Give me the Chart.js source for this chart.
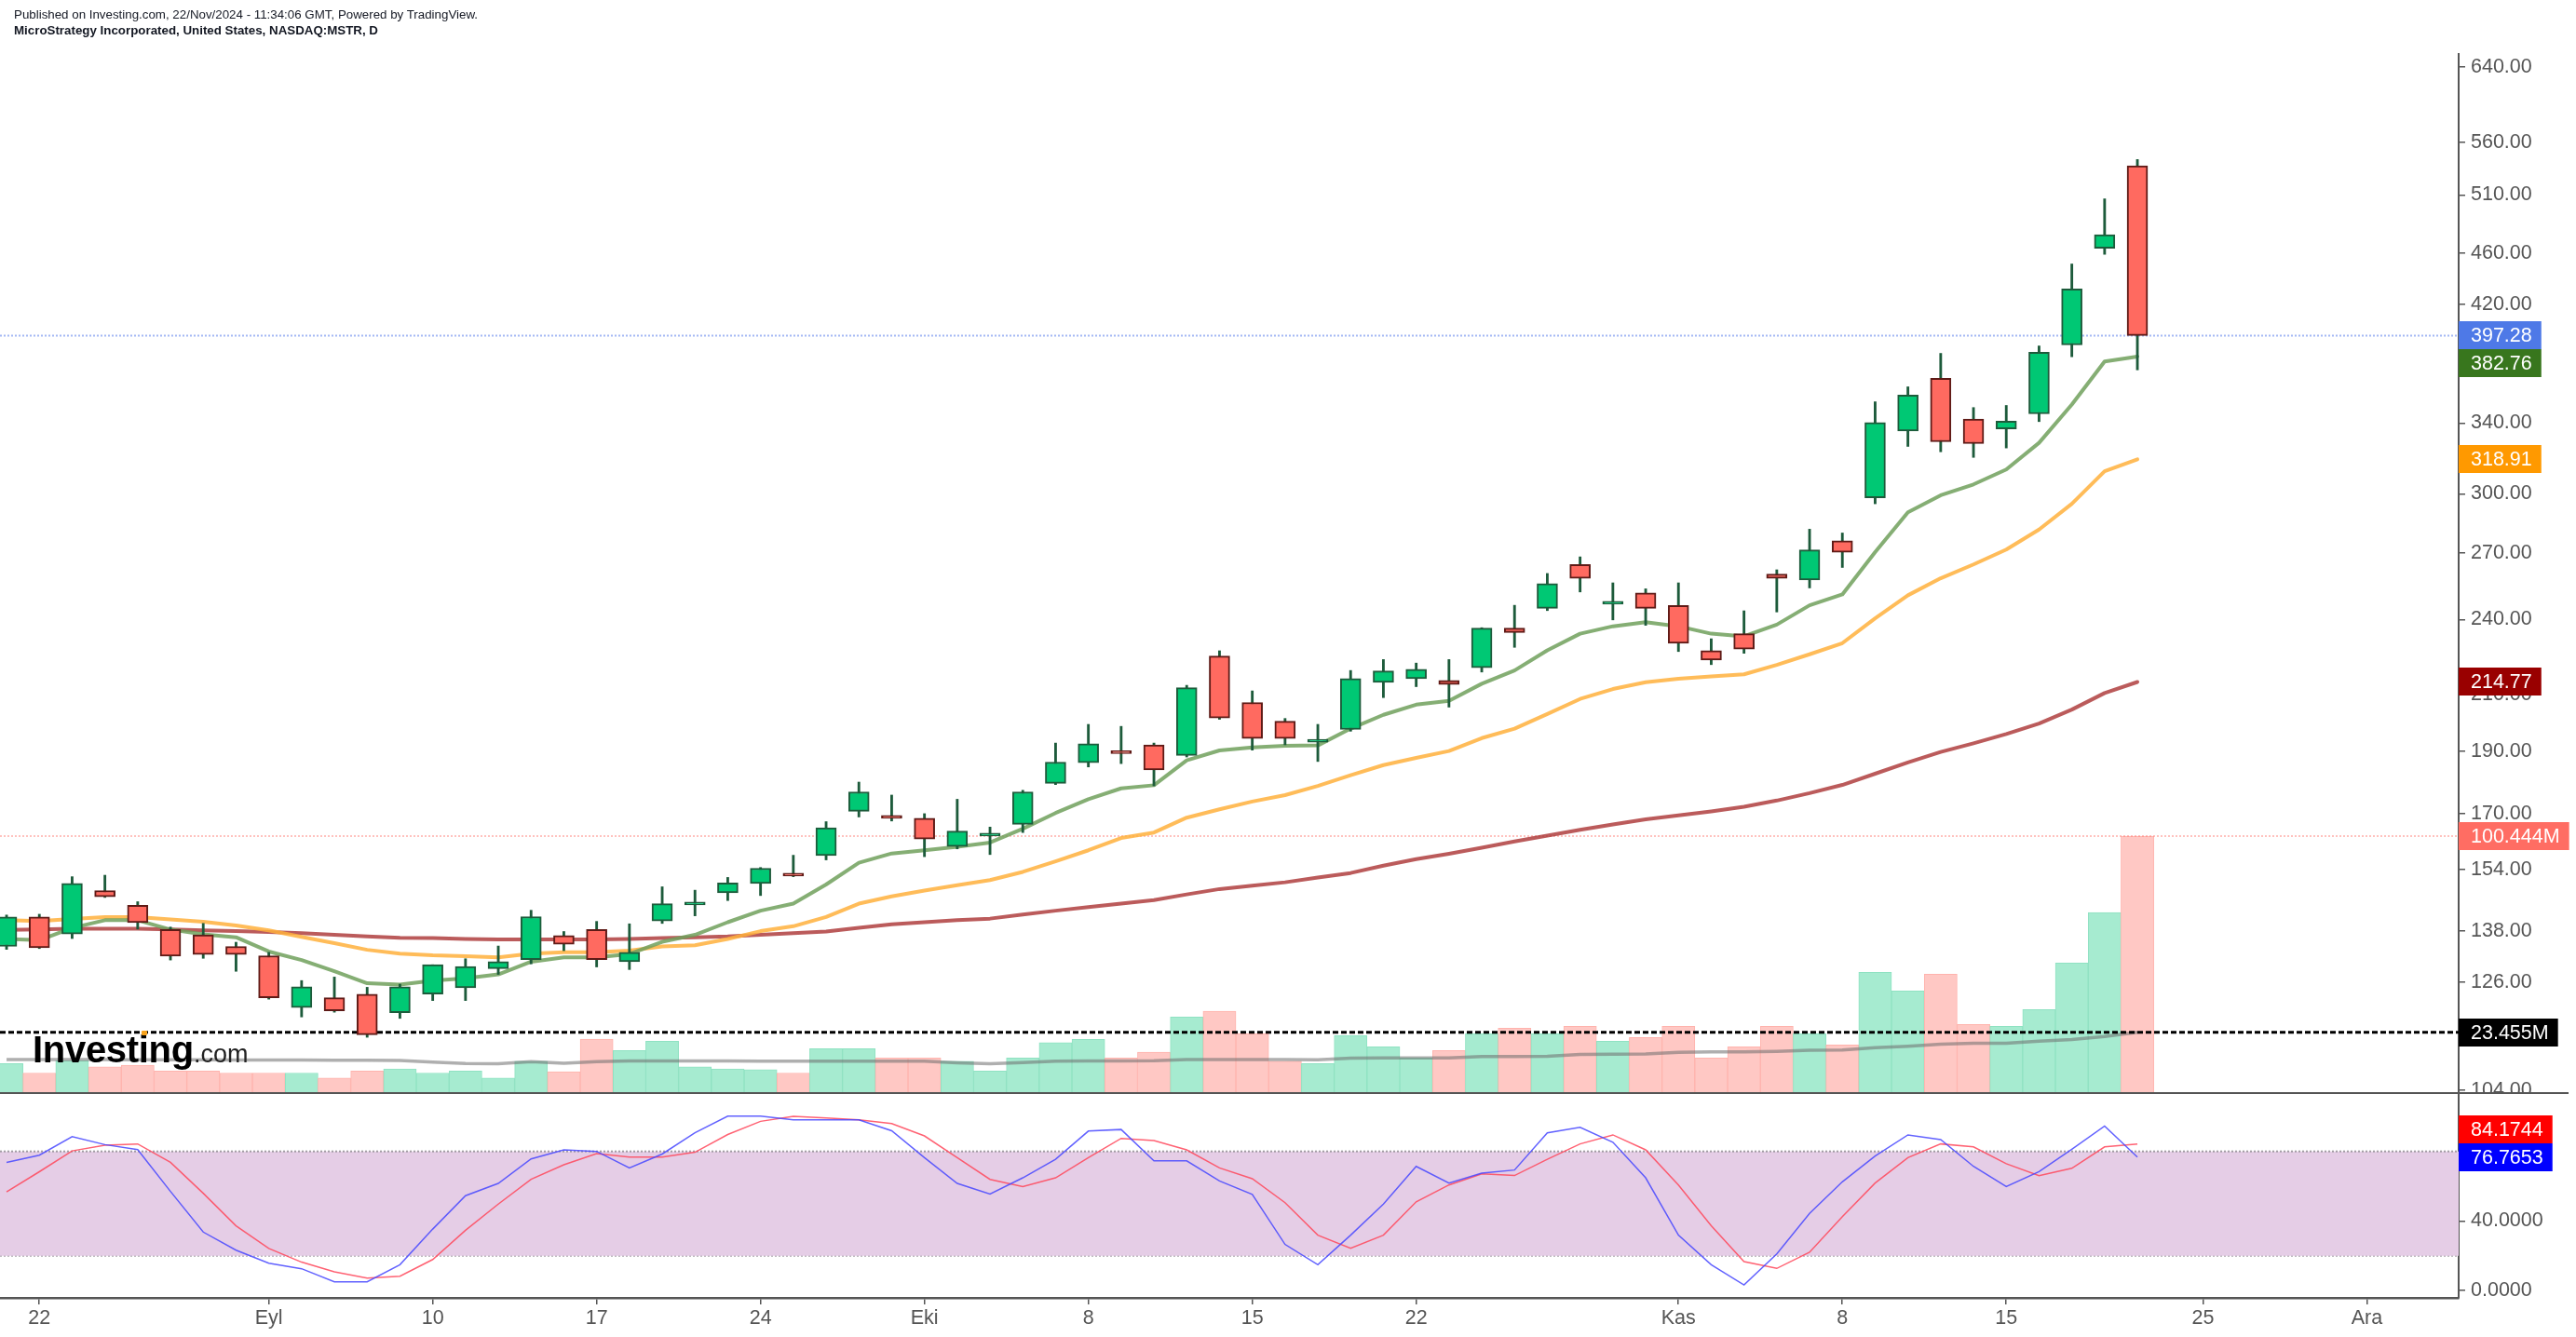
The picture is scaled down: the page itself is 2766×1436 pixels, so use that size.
<!DOCTYPE html>
<html>
<head>
<meta charset="utf-8">
<script src="https://cdn.jsdelivr.net/npm/chart.js@4.4.1/dist/chart.umd.min.js"></script>
<style>
html,body{margin:0;padding:0;background:#fff;}
#wrap{position:relative;width:2766px;height:1436px;overflow:hidden;background:#fff;}
canvas{position:absolute;left:0;}
#cPrice{top:0;}
#cStoch{top:1173px;}
.hdr{position:absolute;left:15px;font-family:'Liberation Sans',Arial,sans-serif;font-size:12.5px;line-height:14px;color:#131722;white-space:nowrap;z-index:5;transform-origin:0 50%;}
#hdr1{top:9px;}
#hdr2{top:26px;font-weight:bold;}
#logo{position:absolute;left:35px;top:1107px;font-family:'Liberation Sans',Arial,sans-serif;line-height:40px;white-space:nowrap;z-index:4;filter:blur(0.5px);}
#logo .a{font-size:40px;font-weight:bold;color:#000;letter-spacing:-0.3px;}
#logo .b{font-size:27px;color:#222;}
#logoDot{position:absolute;left:152px;top:1107px;width:6px;height:5px;background:#f7a21b;z-index:5;border-radius:1px;}
</style>
</head>
<body>
<div id="wrap">
  <canvas id="cPrice" width="2766" height="1173"></canvas>
  <canvas id="cStoch" width="2766" height="263"></canvas>
  <div class="hdr" id="hdr1"></div>
  <div class="hdr" id="hdr2"></div>
  <div id="logo"><span class="a">Investing</span><span class="b">.com</span></div>
  <div id="logoDot"></div>
</div>
<script>
// ---------------- DATA ----------------
const PUBLISHED_TEXT = 'Published on Investing.com, 22/Nov/2024 - 11:34:06 GMT, Powered by TradingView.';
const TITLE_TEXT = 'MicroStrategy Incorporated, United States, NASDAQ:MSTR, D';

// trading days 21 Aug 2024 .. 21 Nov 2024 (index 0..65)
const opens  = [134.3,141.5,137.3,148.3,144.5,138.4,137.1,134.3,132.1,120.5,122.6,123.4,119.4,123.4,124.8,129.1,131.2,136.9,138.4,130.7,
                140.5,144.6,147.7,150.2,152.5,157.8,170.7,169.0,168.6,160.4,163.4,166.8,179.4,186.1,190.1,192.1,188.5,224.9,207.1,200.3,
                193.0,197.4,214.6,216.0,215.4,220.3,236.3,244.8,264.6,246.6,251.6,246.0,227.1,234.0,260.1,257.4,276.0,297.8,335.4,368.3,
                342.5,336.6,345.7,390.7,463.9,536.9];
const highs  = [142.0,142.2,152.0,152.4,145.4,139.0,139.9,135.3,132.9,126.4,127.2,124.9,125.6,130.0,131.4,134.4,143.2,137.9,140.4,139.8,
                149.3,148.4,151.8,154.5,157.9,167.6,179.8,175.7,170.0,174.4,166.0,177.2,192.7,199.2,198.5,192.7,213.5,227.0,211.4,201.3,
                199.2,219.2,223.5,222.1,223.5,236.5,246.1,260.4,268.2,256.1,253.4,256.1,231.9,243.7,262.1,281.7,279.8,353.2,362.7,384.9,
                349.6,350.9,390.0,451.1,506.4,543.0];
const lows   = [133.6,133.8,136.2,146.5,138.5,131.1,131.5,128.5,122.3,118.5,119.5,114.3,118.2,122.0,122.0,127.8,130.2,133.3,129.5,128.9,
                139.9,141.8,145.7,147.0,152.0,156.6,169.0,167.8,157.5,159.7,158.1,164.4,179.0,184.7,185.8,178.6,188.0,201.0,190.3,192.1,
                186.5,196.8,208.9,213.0,205.4,218.6,228.4,243.8,252.0,239.8,237.5,226.7,221.5,226.0,243.2,253.8,263.2,294.7,326.3,323.2,
                320.0,325.4,341.0,382.6,458.9,373.8];
const closes = [141.5,134.0,150.2,146.7,140.1,132.0,132.4,132.4,122.6,125.0,119.8,114.8,125.0,130.0,129.6,130.7,141.6,134.8,131.2,132.9,
                144.9,144.9,150.3,154.3,152.2,165.8,176.7,168.6,162.5,164.8,163.7,176.7,186.3,192.5,189.1,183.7,212.6,201.5,194.3,194.3,
                193.6,216.1,219.0,219.7,213.8,236.3,234.5,255.8,258.2,247.3,244.8,230.0,223.3,227.7,258.2,271.5,270.4,340.4,357.5,329.0,
                327.9,341.3,385.7,431.6,475.1,397.28];
// volume, millions
const volumes = [11.2,7.5,12.3,9.9,10.6,8.3,8.3,7.5,7.5,7.5,5.5,8.3,9.1,7.5,8.3,5.5,12.1,8.0,20.8,16.3,
                 20.0,9.9,9.1,8.8,7.5,17.0,17.0,13.4,13.4,12.1,8.3,13.4,19.4,20.7,13.4,15.7,29.5,31.7,23.0,12.1,
                 11.2,22.2,17.8,13.4,16.3,23.0,25.1,23.0,25.8,20.0,21.4,25.8,13.4,17.8,25.8,23.0,18.5,47.0,39.7,46.3,
                 26.5,25.8,32.4,50.6,70.5,100.444];
const volMA = [12.8,12.8,12.8,12.8,12.7,12.7,12.7,12.6,12.6,12.6,12.5,12.5,12.4,11.8,11.2,11.1,12.0,11.3,12.0,12.2,
               12.2,12.2,12.2,12.1,12.1,12.1,12.1,12.1,12.1,11.5,11.1,11.6,12.1,12.2,12.2,12.3,12.8,12.8,12.8,12.8,
               12.7,13.3,13.4,13.4,13.4,14.0,14.0,14.1,14.8,14.9,15.0,15.6,15.8,15.8,16.0,16.4,16.5,17.4,18.0,18.8,
               19.2,19.2,20.0,20.6,21.8,23.455];
const maFast = [136.1,135.8,138.8,140.7,140.7,138.4,137.2,136.5,133.1,131.1,128.5,125.8,125.5,126.4,126.9,127.8,130.7,131.7,131.7,132.5,
                135.4,137.1,140.2,143.1,144.9,149.9,155.8,158.4,159.3,160.3,161.5,165.5,170.2,174.4,177.8,178.8,186.9,190.2,191.2,191.8,
                191.9,197.7,202.6,206.3,207.7,214.1,219.2,227.2,234.0,237.1,238.8,237.1,234.0,232.9,237.8,246.1,250.9,270.5,290.3,299.2,
                305.0,313.2,328.4,351.5,379.4,382.76];
const maMid  = [140.7,140.5,141.0,141.5,141.5,140.9,140.3,139.4,138.2,136.6,135.1,133.5,132.6,132.2,132.0,131.7,132.6,132.9,132.9,133.3,
                134.3,134.6,136.1,138.0,139.2,141.5,144.9,146.8,148.3,149.7,151.1,153.3,156.2,159.3,162.8,164.4,168.8,171.3,173.7,175.7,
                178.6,182.0,185.3,187.7,190.0,194.4,197.7,202.9,208.4,212.1,214.7,216.0,216.9,217.7,221.4,225.6,230.1,240.5,250.5,258.2,
                264.6,271.7,281.5,294.7,312.2,318.91];
const maSlow = [138.3,138.4,138.6,138.6,138.6,138.4,138.2,138.0,137.8,137.5,137.1,136.7,136.4,136.3,136.1,136.0,136.0,136.0,136.0,136.1,
                136.3,136.5,136.7,137.1,137.5,137.9,138.8,139.7,140.2,140.7,141.1,142.1,143.1,144.0,144.9,145.8,147.3,148.7,149.6,150.5,
                151.8,153.0,155.0,156.8,158.3,160.0,161.8,163.5,165.2,166.8,168.3,169.5,170.7,172.1,174.0,176.3,178.9,182.5,186.2,189.7,
                192.6,195.8,199.5,204.5,210.6,214.77];
const stochK = [73.7,77.8,88.5,83.9,81.0,57.0,33.6,23.2,15.7,12.5,5.0,5.0,14.8,35.3,54.5,61.6,75.7,80.9,80.0,70.5,
                78.5,90.7,100.3,100.3,98.2,98.2,98.2,91.9,76.4,61.6,55.5,64.8,75.5,91.7,92.6,74.6,74.6,63.0,55.3,26.5,
                14.8,31.8,49.7,71.4,61.8,67.5,69.3,90.7,93.9,85.3,64.8,31.8,14.8,3.2,21.0,44.3,62.5,77.3,89.5,86.8,
                71.4,59.8,68.4,81.2,94.6,76.7653];
const stochD = [56.7,68.3,80.3,83.6,84.3,73.7,55.9,37.2,24.2,16.3,10.7,7.1,8.2,17.8,34.6,49.7,64.0,72.3,78.7,76.7,
                76.7,79.5,89.7,97.3,100.2,99.3,98.2,96.0,88.9,76.4,63.9,59.8,64.8,76.4,87.5,86.2,80.9,70.5,64.3,50.5,
                31.8,24.3,31.8,51.0,60.7,67.1,66.1,75.5,84.3,89.5,80.9,60.7,37.2,16.6,12.7,22.0,42.5,61.8,76.4,84.3,
                82.6,72.9,66.1,70.3,82.6,84.1744];
const stochBand = [20, 80];
const priceTicks = [104,126,138,154,170,190,210,240,270,300,340,380,420,460,510,560,640];
const stochTicks = [0,40,80];
const xTickIdx  = [1,8,13,18,23,28,33,38,43,51,56,61,67,72];
const xTickText = ['22','Eyl','10','17','24','Eki','8','15','22','Kas','8','15','25','Ara'];

// ---------------- STYLE ----------------
const FONT = "'Liberation Sans', Arial, sans-serif";
const AXIS_C = '#555555';
const UP_FILL = '#00c874', UP_LINE = '#1d5b3b';
const DN_FILL = '#ff6a60', DN_LINE = '#5e1a16';
const WICK = '#1d5b3b';
const UP_VOL = '#a6ebd0', UP_VOL_B = '#8fe2c2';
const DN_VOL = '#ffc8c4', DN_VOL_B = '#ffb3ad';
const X_MIN = -0.2, X_MAX = 74.8;

document.getElementById('hdr1').textContent = PUBLISHED_TEXT;
document.getElementById('hdr2').textContent = TITLE_TEXT;
function fitW(id, w){ const el=document.getElementById(id); const r=el.getBoundingClientRect().width; if(r>0) el.style.transform='scaleX('+(w/r)+')'; }
fitW('hdr1', 498); fitW('hdr2', 391);

const N = closes.length;
const idx = Array.from({length:N}, (_, i) => i);
const isUp = i => closes[i] >= opens[i];
const pts = arr => arr.map((v, i) => ({x:i, y:v}));
const hline = v => [{x:X_MIN, y:v}, {x:X_MAX, y:v}];

const badgePlugin = {
  id: 'badges',
  afterDraw(chart, args, opts) {
    const ctx = chart.ctx, H = 30, placed = [];
    ctx.save();
    ctx.font = '21.5px ' + FONT;
    ctx.textBaseline = 'middle'; ctx.textAlign = 'left';
    for (const b of (opts.items || [])) {
      const sc = chart.scales[b.axis];
      let y = sc.getPixelForValue(b.value);
      for (let g = 0; g < 10; g++) {
        let moved = false;
        for (const p of placed) {
          if (Math.abs(y - p) < H - 0.01) { y = (y >= p) ? p + H : p - H; moved = true; }
        }
        if (!moved) break;
      }
      placed.push(y);
      const x0 = chart.chartArea.right;
      const w = ctx.measureText(b.text).width;
      ctx.fillStyle = b.bg;
      ctx.fillRect(x0, Math.round(y - H/2), 13 + w + 10, H);
      ctx.fillStyle = '#ffffff';
      ctx.fillText(b.text, x0 + 13, y + 1);
    }
    ctx.restore();
  }
};
const sepPlugin = {
  id: 'sep',
  afterDraw(chart, args, opts) {
    if (!opts.on) return;
    const ctx = chart.ctx;
    ctx.save(); ctx.fillStyle = AXIS_C; ctx.fillRect(0, 0, 2758, 2); ctx.restore();
  }
};

function fixY(scale){ scale.width = 126; scale.paddingTop = 0; scale.paddingBottom = 0; }

// ---------------- PRICE + VOLUME PANE ----------------
new Chart(document.getElementById('cPrice'), {
  type: 'line',
  data: {
    datasets: [
      { type:'bar', label:'body', data: idx.map(i => ({x:i, y:[opens[i], closes[i]]})),
        xAxisID:'x', yAxisID:'yP', grouped:false, categoryPercentage:1, barPercentage:1, maxBarThickness:22,
        minBarLength:3, borderWidth:2, borderSkipped:false,
        backgroundColor: idx.map(i => isUp(i) ? UP_FILL : DN_FILL),
        borderColor: idx.map(i => isUp(i) ? UP_LINE : DN_LINE), order:0 },
      { type:'bar', label:'wick', data: idx.map(i => ({x:i, y:[lows[i], highs[i]]})),
        xAxisID:'x', yAxisID:'yP', grouped:false, categoryPercentage:1, barPercentage:1, maxBarThickness:2.2,
        borderWidth:0, backgroundColor: WICK, order:1 },
      { label:'last', data: hline(closes[N-1]), xAxisID:'x', yAxisID:'yP', borderColor:'rgba(90,125,235,0.55)',
        borderWidth:2, borderDash:[2,2], pointRadius:0, order:2 },
      { label:'maFast', data: pts(maFast), xAxisID:'x', yAxisID:'yP', borderColor:'rgba(112,160,92,0.85)',
        borderWidth:4, pointRadius:0, tension:0, borderJoinStyle:'round', borderCapStyle:'round', order:3 },
      { label:'maMid', data: pts(maMid), xAxisID:'x', yAxisID:'yP', borderColor:'rgba(255,176,60,0.85)',
        borderWidth:4, pointRadius:0, tension:0, borderJoinStyle:'round', borderCapStyle:'round', order:3 },
      { label:'maSlow', data: pts(maSlow), xAxisID:'x', yAxisID:'yP', borderColor:'rgba(170,50,50,0.8)',
        borderWidth:4, pointRadius:0, tension:0, borderJoinStyle:'round', borderCapStyle:'round', order:3 },
      { label:'volLast', data: hline(volumes[N-1]), xAxisID:'x', yAxisID:'yV', borderColor:'rgba(255,120,110,0.45)',
        borderWidth:2, borderDash:[2,2], pointRadius:0, order:5 },
      { label:'volMAline', data: hline(volMA[N-1]), xAxisID:'x', yAxisID:'yV', borderColor:'#000000',
        borderWidth:3, borderDash:[6,3], pointRadius:0, order:5 },
      { label:'volMA', data: pts(volMA), xAxisID:'x', yAxisID:'yV', borderColor:'rgba(110,110,110,0.55)',
        borderWidth:3.5, pointRadius:0, tension:0, order:6 },
      { type:'bar', label:'vol', data: idx.map(i => ({x:i, y:volumes[i]})),
        xAxisID:'x', yAxisID:'yV', grouped:false, categoryPercentage:1, barPercentage:1, maxBarThickness:35.2,
        borderWidth:1, borderSkipped:'bottom',
        backgroundColor: idx.map(i => isUp(i) ? UP_VOL : DN_VOL),
        borderColor: idx.map(i => isUp(i) ? UP_VOL_B : DN_VOL_B), order:7 }
    ]
  },
  options: {
    responsive:false, devicePixelRatio:1, animation:false, events:[],
    layout:{ padding:{ top:58, bottom:0, left:0, right:0 } },
    plugins:{ legend:{display:false}, tooltip:{enabled:false},
      badges:{ items:[
        {axis:'yP', value:closes[N-1], text:closes[N-1].toFixed(2), bg:'#4e79e7'},
        {axis:'yP', value:maFast[N-1], text:maFast[N-1].toFixed(2), bg:'#38761d'},
        {axis:'yP', value:maMid[N-1], text:maMid[N-1].toFixed(2), bg:'#ff9900'},
        {axis:'yP', value:maSlow[N-1], text:maSlow[N-1].toFixed(2), bg:'#990000'},
        {axis:'yV', value:volumes[N-1], text:volumes[N-1].toFixed(3)+'M', bg:'#ff6d63'},
        {axis:'yV', value:volMA[N-1], text:volMA[N-1].toFixed(3)+'M', bg:'#000000'}
      ]},
      sep:{on:false}
    },
    scales:{
      x:{ type:'linear', min:X_MIN, max:X_MAX, display:false, offset:false },
      yP:{ type:'logarithmic', position:'right', min:103.69, max:654.9,
        afterBuildTicks: s => { s.ticks = priceTicks.map(v => ({value:v})); },
        afterFit: fixY,
        ticks:{ autoSkip:false, padding:6, color:AXIS_C, font:{family:FONT, size:21.5},
                callback: v => Number(v).toFixed(2) },
        grid:{ drawOnChartArea:false, drawTicks:true, tickLength:7, color:AXIS_C, lineWidth:1.5 },
        border:{ display:true, color:AXIS_C, width:2 } },
      yV:{ type:'linear', position:'left', min:0, max:407.2, display:false }
    }
  },
  plugins:[badgePlugin, sepPlugin]
});

// ---------------- STOCHASTIC PANE ----------------
new Chart(document.getElementById('cStoch'), {
  type: 'line',
  data: {
    datasets: [
      { label:'bandLow', data: hline(stochBand[0]), xAxisID:'x', yAxisID:'yS', borderColor:'#a29ca3',
        borderWidth:2, borderDash:[2,2], pointRadius:0, order:3, fill:false },
      { label:'bandHigh', data: hline(stochBand[1]), xAxisID:'x', yAxisID:'yS', borderColor:'#a29ca3',
        borderWidth:2, borderDash:[2,2], pointRadius:0, order:2, fill:'-1', backgroundColor:'#e5cde6' },
      { label:'%D', data: pts(stochD), xAxisID:'x', yAxisID:'yS', borderColor:'rgba(255,70,90,0.85)',
        borderWidth:1.5, pointRadius:0, tension:0, order:1 },
      { label:'%K', data: pts(stochK), xAxisID:'x', yAxisID:'yS', borderColor:'rgba(70,70,255,0.85)',
        borderWidth:1.5, pointRadius:0, tension:0, order:0 }
    ]
  },
  options: {
    responsive:false, devicePixelRatio:1, animation:false, events:[],
    layout:{ padding:{ top:0, bottom:0, left:0, right:0 } },
    plugins:{ legend:{display:false}, tooltip:{enabled:false},
      badges:{ items:[
        {axis:'yS', value:stochK[N-1], text:stochK[N-1].toFixed(4), bg:'#0000ff'},
        {axis:'yS', value:stochD[N-1], text:stochD[N-1].toFixed(4), bg:'#ff0000'}
      ]},
      sep:{on:true}
    },
    scales:{
      x:{ type:'linear', min:X_MIN, max:X_MAX, offset:false, position:'bottom',
        afterBuildTicks: s => { s.ticks = xTickIdx.map(v => ({value:v})); },
        afterFit: s => { s.height = 42; s.paddingLeft = 0; s.paddingRight = 0; },
        ticks:{ autoSkip:false, maxRotation:0, padding:2, color:AXIS_C, font:{family:FONT, size:21.5},
                callback: v => xTickText[xTickIdx.indexOf(Math.round(v))] },
        grid:{ drawOnChartArea:false, drawTicks:true, tickLength:7, color:AXIS_C, lineWidth:1.5 },
        border:{ display:true, color:AXIS_C, width:2.5 } },
      yS:{ type:'linear', position:'right', min:-4.28, max:114.1,
        afterBuildTicks: s => { s.ticks = stochTicks.map(v => ({value:v})); },
        afterFit: fixY,
        ticks:{ autoSkip:false, padding:6, color:AXIS_C, font:{family:FONT, size:21.5},
                callback: v => Number(v).toFixed(4) },
        grid:{ drawOnChartArea:false, drawTicks:true, tickLength:7, color:AXIS_C, lineWidth:1.5 },
        border:{ display:true, color:AXIS_C, width:2 } }
    }
  },
  plugins:[badgePlugin, sepPlugin]
});
</script>
</body>
</html>
